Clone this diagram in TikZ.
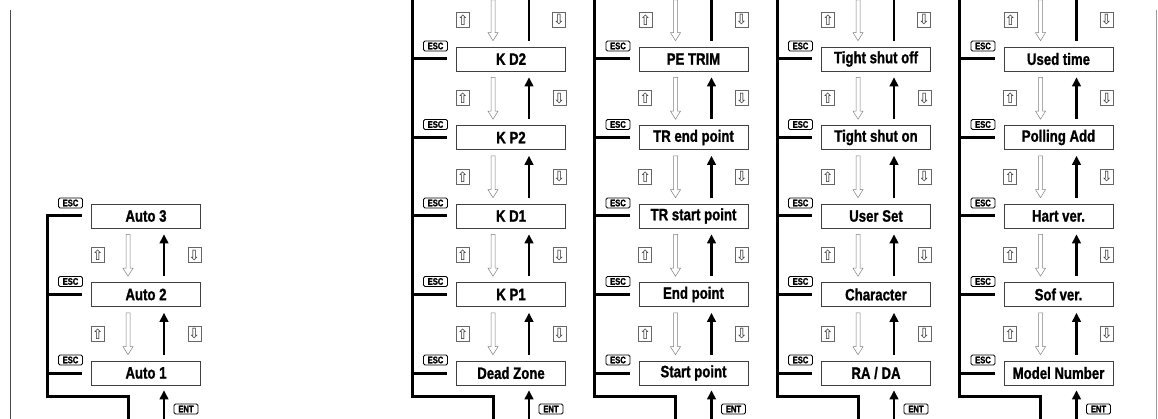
\documentclass[tikz,border=0pt]{standalone}
\usepackage{fontspec}
\newfontfamily\condfont[FakeStretch=0.8, BoldFeatures={FakeBold=1.2}]{Liberation Sans}
\newfontfamily\keyfont{DejaVu Sans}
\usetikzlibrary{positioning,arrows.meta,calc}

\tikzset{
  menu/.style={draw=black!75, line width=0.6pt, minimum width=109pt, minimum height=24pt,
    inner sep=0pt, font=\condfont\bfseries\fontsize{16.5}{17}\selectfont},
  keycap/.style={draw=black!60, line width=0.5pt, minimum width=13pt, minimum height=15pt,
    inner sep=0pt, text=black!80, font=\keyfont\fontsize{14}{14}\selectfont},
  tag/.style={draw, rounded corners=1.5pt, line width=0.8pt, minimum width=24pt, minimum height=10pt,
    inner sep=0pt, font=\condfont\bfseries\fontsize{9.5}{9.5}\selectfont},
  bus/.style={line width=3pt},
  blk/.style={line width=2.6pt, -{Triangle[length=9pt,width=8.5pt]}},
  hollow/.style={draw=black!50, fill=white, line width=0.5pt,
    to path={let \p1=(\tikztostart), \p2=(\tikztotarget) in
      (\x1-2pt,\y1) -- (\x1+2pt,\y1) -- (\x1+2pt,\y2+8pt) -- (\x1+5pt,\y2+8pt)
      -- (\x1,\y2) -- (\x1-5pt,\y2+8pt) -- (\x1-2pt,\y2+8pt) -- cycle}},
}

\begin{document}
\begin{tikzpicture}[x=1pt, y=-1pt]
  \useasboundingbox (0,0) rectangle (1158,419);
  \draw[black!70, line width=1pt] (10,10) -- (10,419);
  \draw[black!40, line width=1pt] (1156.5,10) -- (1156.5,419);

  \foreach \k/\first/\lst in {0/3/{Auto 3,Auto 2,Auto 1},
      2/1/{K D2,K P2,K D1,K P1,Dead Zone},
      3/1/{PE TRIM,TR end point,TR start point,End point,Start point},
      4/1/{Tight shut off,Tight shut on,User Set,Character,RA / DA},
      5/1/{Used time,Polling Add,Hart ver.,Sof ver.,Model Number}} {
    \pgfmathsetmacro\cx{146+182.5*\k}
    \pgfmathsetmacro\ytop{\first==1 ? 0 : 59+78.5*(\first-1)-1.5}
    % bus down the left side and out at the bottom
    \draw[bus] (\cx-99,\ytop) |- (\cx-18,396) -- (\cx-18,419);
    \foreach \t [count=\n from \first] in \lst {
      \pgfmathsetmacro\ry{59+78.5*(\n-1)}
      \node[menu] (m\k\n) at (\cx,\ry) {\t};
      \node[tag] (esc\k\n) at (\cx-75.5,\ry-13) {ESC};
      \draw[bus] ([xshift=-45pt]m\k\n.west) -- ([xshift=-9pt]m\k\n.west);
      \ifnum\n>\first
        \pgfmathtruncatemacro\p{\n-1}
        \node[keycap] (up\k\n) at ($(m\k\p.south west)!0.5!(m\k\n.north west)+(6.5,0)$) {⇧};
        \node[keycap] (dn\k\n) at ($(m\k\p.south east)!0.5!(m\k\n.north east)+(-6.5,0)$) {⇩};
        \draw[hollow] ([xshift=-18pt,yshift=-6pt]m\k\p.south) to ([xshift=-18pt,yshift=6pt]m\k\n.north);
        \draw[blk] ([xshift=18pt,yshift=6pt]m\k\n.north) -- ([xshift=18pt,yshift=-6pt]m\k\p.south);
      \fi
    }
    % cut-off step above the first row
    \ifnum\first=1
      \coordinate (top\k) at (\cx,0);
      \node[keycap] (up\k1) at (\cx-48,19.75) {⇧};
      \node[keycap] (dn\k1) at (\cx+48,19.75) {⇩};
      \draw[hollow] ([xshift=-18pt]top\k) to ([xshift=-18pt,yshift=6pt]m\k1.north);
      \draw[line width=2.6pt] ([xshift=18pt,yshift=6pt]m\k1.north) -- ([xshift=18pt]top\k);
    \fi
    % enter
    \coordinate (in\k) at (\cx+18,419);
    \draw[blk] (in\k) -- ([xshift=18pt,yshift=-5pt]m\k5.south);
    \node[tag] (ent\k) at (\cx+40,409) {ENT};
  }
\end{tikzpicture}
\end{document}
